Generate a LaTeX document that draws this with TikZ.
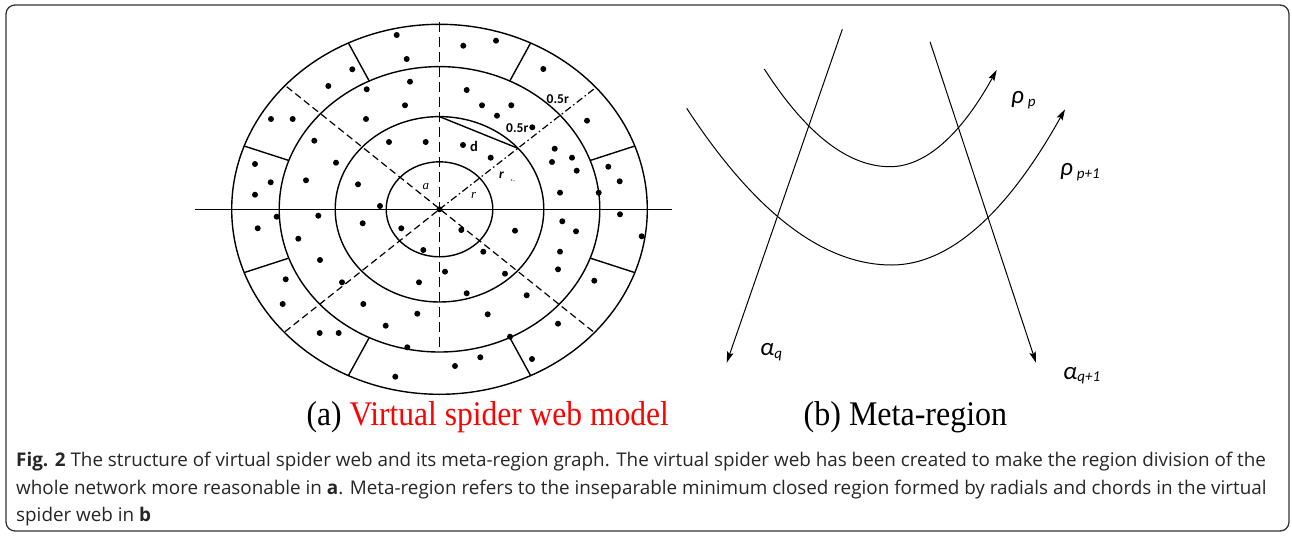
\documentclass[tikz,border=0pt]{standalone}
\usepackage{fontspec}
\setmainfont{Liberation Serif}
\newfontfamily\calfont{Carlito}
\newfontfamily\capfont{Open Sans}
\usetikzlibrary{arrows.meta,calc}
\begin{document}
\begin{tikzpicture}[x=1pt,y=-1pt,
  web/.style={line width=1.4pt},
  axisdash/.style={line width=1.4pt,dash pattern=on 10pt off 5pt},
  diagdash/.style={line width=1.2pt,dash pattern=on 7pt off 4pt},
  diagdashdot/.style={line width=1.2pt,dash pattern=on 7pt off 3pt on 1.5pt off 3pt},
  arr/.style={line width=1pt,-{Stealth[length=11pt,width=6.5pt,inset=2pt]}},
  lbl/.style={inner sep=0pt,anchor=base west},
  captxt/.style={inner sep=0pt,anchor=base west,font=\capfont\fontsize{18.85}{18.85}\selectfont,text=black!85}]
\useasboundingbox (0,0) rectangle (1292,535);
\draw[rounded corners=9pt,line width=1.3pt,draw=black!80] (6,5) rectangle (1289,531);

% ---------- panel a : virtual spider web ----------
\coordinate (O) at (439.5,209.3);
\draw[web] (O) ellipse [x radius=53.3pt, y radius=47.5pt];
\draw[web] (O) ellipse [x radius=104.3pt, y radius=92.7pt];
\draw[web] (O) ellipse [x radius=160.3pt, y radius=142.7pt];
\draw[web] (O) ellipse [x radius=207.8pt, y radius=185pt];
\coordinate (hl) at (195,209.3);
\coordinate (hr) at (672,209.3);
\draw[web] (hl) -- (hr);
\coordinate (vt) at (439.5,22);
\coordinate (vb) at (439.5,352);
\draw[axisdash] (vt) -- (vb);
\coordinate (nw) at (286.7,86.7);
\coordinate (se) at (593.3,331.7);
\coordinate (ne) at (595.5,87.8);
\coordinate (sw) at (285,331.7);
\draw[diagdash] (nw) -- (se);
\draw[diagdash] (sw) -- (O);
\draw[diagdashdot] (O) -- (ne);
\foreach \t in {20,64,116,160,200,244,296,340}
  \draw[web] ($(O)+(\t:160.3pt and 142.7pt)$) -- ($(O)+(\t:207.8pt and 185pt)$);
\coordinate (ctop) at (439.5,116.6);
\coordinate (cne) at (517.9,148.3);
\draw[web] (ctop) -- (cne);
\fill (O) circle[radius=3pt];
\foreach \x/\y in {396.7/35,463.3/45.7,496/40.7,406.7/59,352.3/69.3,543.3/69,
  328.3/86,366.7/89.3,410/81.7,466.7/90,405/105.3,482/105.3,511.3/105.3,497/115.7,
  532.3/127.3,271/119,292.7/119,366/119,587/120.7,314.3/140.7,389/142,425.7/142,
  463/145,490.7/157.7,554.7/148.7,572/157.7,552/162,576.7/170.7,255/164,336/162.7,
  608.3/166.7,270.7/182.3,306/180.3,358/184.3,619.7/181.3,255/194.7,560/192.7,
  598.7/192.7,380/206,276.7/216.7,318.3/215.7,620/214.3,257.7/228.3,362.7/223.3,
  401.3/228.3,461.3/230,515/230.7,562.3/221.3,576/231.3,641.7/236.3,298.3/238.7,
  423.3/250,483.3/251.7,560/251.7,320/260,558/269.3,445/271.7,505/273.7,285.7/279.3,
  342/282.3,419/282.3,594.3/280.7,466.7/293.3,526.7/295.3,282.7/304,363.3/304,
  417.3/313.7,487.7/314.3,558/323.7,385.7/325.7,319.7/333,338.7/333,407.3/347.3,
  510/336.7,480.3/357.3,455/366,532/359,395.3/376.7}
  \fill (\x,\y) circle[radius=3pt];
\fill[black!60] (511.5,180) circle[radius=0.8pt] (514,180.5) circle[radius=0.7pt];
\node[lbl,font=\calfont\bfseries\fontsize{13.5}{13.5}\selectfont] (l05a) at (546.5,103.5) {0.5r};
\node[lbl,font=\calfont\bfseries\fontsize{13.5}{13.5}\selectfont] (l05b) at (506,132) {0.5r};
\node[lbl,font=\calfont\bfseries\fontsize{14.5}{14.5}\selectfont] (ld) at (470,151) {d};
\node[lbl,font=\calfont\bfseries\itshape\fontsize{13.5}{13.5}\selectfont] (lr1) at (499,178) {r};
\node[lbl,font=\itshape\fontsize{13}{13}\selectfont] (lr2) at (471,198.5) {r};
\node[lbl,font=\itshape\fontsize{13}{13}\selectfont] (la) at (422.5,189) {a};

% ---------- panel b : meta-region ----------
\coordinate (aqs) at (842.3,29.3);
\coordinate (aqe) at (726.7,362.7);
\coordinate (bqs) at (930,41.7);
\coordinate (bqe) at (1036,362.7);
\draw[arr] (aqs) -- (aqe);
\draw[arr] (bqs) -- (bqe);
\coordinate (pps) at (764.3,69);
\coordinate (ppm) at (890,166.7);
\coordinate (ppe) at (996.7,70);
\draw[arr] (pps) .. controls (806.2,134.1) and (848.1,166.7) .. (ppm)
  .. controls (925.6,166.7) and (961.1,134.5) .. (ppe);
\coordinate (qqs) at (686.7,108.3);
\coordinate (qqm) at (891.7,265);
\coordinate (qqe) at (1065,109.3);
\draw[arr] (qqs) .. controls (755,212.8) and (823.4,265) .. (qqm)
  .. controls (949.5,265) and (1007.2,213.1) .. (qqe);
\node[lbl,font=\calfont\itshape\fontsize{25}{25}\selectfont] (lrp) at (1011,103.5)
  {ρ\hspace{4pt}\raisebox{-3pt}{\fontsize{15}{15}\selectfont p}};
\node[lbl,font=\calfont\itshape\fontsize{25}{25}\selectfont] (lrp1) at (1060,175.5)
  {ρ\hspace{4pt}\raisebox{-3pt}{\fontsize{15}{15}\selectfont p+1}};
\node[lbl,font=\calfont\itshape\fontsize{25}{25}\selectfont] (laq) at (760,355.5)
  {α\raisebox{-2.5pt}{\fontsize{15}{15}\selectfont q}};
\node[lbl,font=\calfont\itshape\fontsize{25}{25}\selectfont] (laq1) at (1063,379)
  {α\raisebox{-2.5pt}{\fontsize{15}{15}\selectfont q+1}};

% ---------- sub-captions ----------
\node[lbl,font=\fontsize{32}{32}\selectfont] (sca) at (306.5,425.5) {\scalebox{0.985}[1.08]{(a) \textcolor{red}{Virtual spider web model}}};
\node[lbl,font=\fontsize{32}{32}\selectfont] (scb) at (803.5,425.5) {\scalebox{1}[1.08]{(b) Meta-region}};

% ---------- caption ----------
\node[captxt] (c1) at (16,466) {\textbf{Fig. 2} The structure of virtual spider web and its meta-region graph. The virtual spider web has been created to make the region division of the};
\node[captxt] (c2) at (16,494) {whole network more reasonable in \textbf{a}. Meta-region refers to the inseparable minimum closed region formed by radials and chords in the virtual};
\node[captxt] (c3) at (16,521) {spider web in \textbf{b}};
\end{tikzpicture}
\end{document}
